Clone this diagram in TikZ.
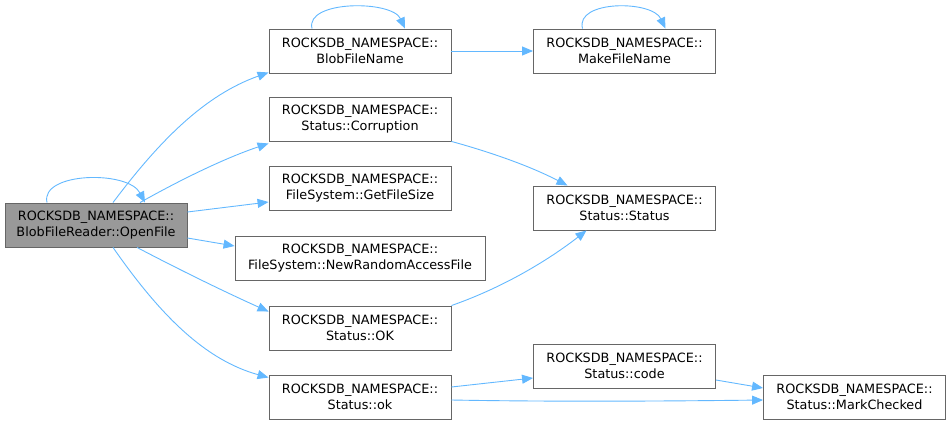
\documentclass[tikz,border=0pt]{standalone}
\usepackage{fontspec}
\setmainfont{DejaVu Sans}
\usepackage{xcolor}
\usetikzlibrary{arrows.meta,positioning,calc}

\definecolor{edgeblue}{HTML}{63B8FF}
\definecolor{boxgray}{HTML}{666666}
\definecolor{hlgray}{HTML}{999999}

\begin{document}
\begin{tikzpicture}[x=1pt,y=-1pt,
	fn/.style={draw=boxgray,line width=0.9pt,fill=white,align=center,
		minimum width=182pt,minimum height=44pt,inner sep=0pt,
		font=\fontsize{12.8}{16.5}\selectfont},
	cur/.style={fn,fill=hlgray},
	call/.style={draw=edgeblue,line width=0.9pt,-{Triangle[length=11pt,width=9pt]}}]
	\useasboundingbox (0,0) rectangle (950,426);
	
	\node[cur] (open) at (96,225) {ROCKSDB\_NAMESPACE::\\BlobFileReader::OpenFile};
	
	\node[fn] (blob) at (360,51) {ROCKSDB\_NAMESPACE::\\BlobFileName};
	\node[fn] (corr) at (360,119) {ROCKSDB\_NAMESPACE::\\Status::Corruption};
	\node[fn] (size) at (360,188) {ROCKSDB\_NAMESPACE::\\FileSystem::GetFileSize};
	\node[fn,minimum width=250pt] (rand) at (360,258) {ROCKSDB\_NAMESPACE::\\FileSystem::NewRandomAccessFile};
	\node[fn] (okc) at (360,328) {ROCKSDB\_NAMESPACE::\\Status::OK};
	\node[fn] (oks) at (360,397) {ROCKSDB\_NAMESPACE::\\Status::ok};
	
	\node[fn] (make) at (624.5,51) {ROCKSDB\_NAMESPACE::\\MakeFileName};
	\node[fn] (stat) at (624.5,208) {ROCKSDB\_NAMESPACE::\\Status::Status};
	\node[fn] (code) at (624.5,366) {ROCKSDB\_NAMESPACE::\\Status::code};
	\node[fn] (mark) at (854.5,397) {ROCKSDB\_NAMESPACE::\\Status::MarkChecked};
	
	\draw[call] ([xshift=-49pt]open.north) .. controls (40,172) and (128,170) .. ([xshift=49pt]open.north);
	\draw[call] ([xshift=-48pt]blob.north) .. controls (305,0) and (392,0) .. ([xshift=45pt]blob.north);
	\draw[call] ([xshift=-42pt]make.north) .. controls (575,0) and (652,0) .. ([xshift=41pt]make.north);
	
	\draw[call] ([xshift=17pt]open.north) .. controls (160,140) and (205,95) .. ([yshift=1pt]blob.south west);
	\draw[call] ([xshift=44pt]open.north) .. controls (180,180) and (225,158) .. ([yshift=-2pt]corr.south west);
	\draw[call] ([yshift=13pt]open.east) -- ([yshift=-14pt]size.west);
	\draw[call] ([yshift=-13pt]open.east) -- ([yshift=12pt]rand.west);
	\draw[call] ([xshift=41pt]open.south) .. controls (180,270) and (225,292) .. ([yshift=-6pt]okc.north west);
	\draw[call] ([xshift=17pt]open.south) .. controls (160,315) and (205,360) .. ([yshift=-3pt]oks.north west);
	
	\draw[call] (blob.east) -- (make.west);
	\draw[call] (corr.south east) .. controls (490,152) and (530,166) .. ([xshift=-57pt]stat.north);
	\draw[call] (okc.north east) .. controls (510,285) and (555,255) .. ([xshift=-38pt]stat.south);
	\draw[call] ([yshift=10pt]oks.east) -- ([yshift=-12pt]code.west);
	\draw[call] ([yshift=-14pt]code.east) -- ([yshift=9pt]mark.west);
	\draw[call] ([yshift=-3pt]oks.east) .. controls (560,402) and (680,401) .. ([yshift=-3pt]mark.west);
\end{tikzpicture}
\end{document}
